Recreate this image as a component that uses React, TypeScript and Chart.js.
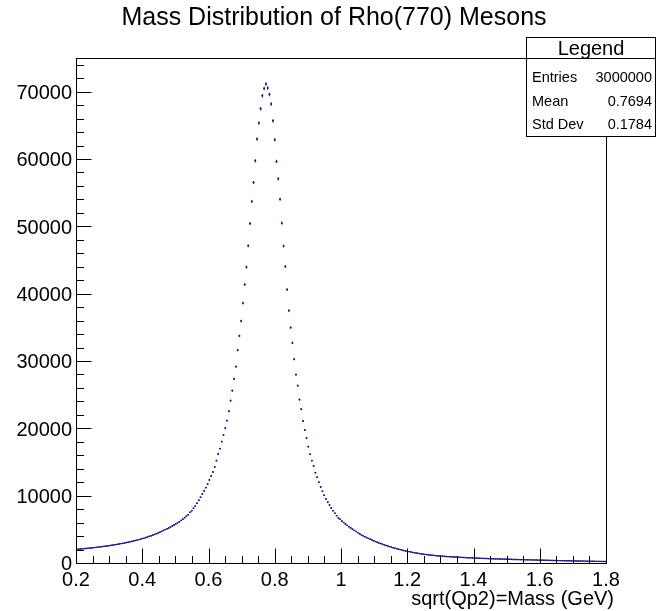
import React, { useEffect, useRef } from "react";
import { Chart, registerables } from "chart.js";

Chart.register(...registerables);

const W = 667;
const H = 611;
const FONT = '"Liberation Sans", Arial, Helvetica, sans-serif';
const HSCALE = 1.0;
const MARKER = "rgb(22,22,135)";

const TITLE = "Mass Distribution of Rho(770) Mesons";
const X_TITLE = "sqrt(Qp2)=Mass (GeV)";

const X_MIN = 0.2;
const X_MAX = 1.8;
const N_BINS = 300;
const Y_MIN = 0;
const Y_MAX = 75000;

const X_TICKS = [0.2, 0.4, 0.6, 0.8, 1.0, 1.2, 1.4, 1.6, 1.8];
const X_TICK_LABELS = ["0.2", "0.4", "0.6", "0.8", "1", "1.2", "1.4", "1.6", "1.8"];
const X_MINOR_STEP = 0.05;
const Y_TICKS = [0, 10000, 20000, 30000, 40000, 50000, 60000, 70000];
const Y_TICK_LABELS = ["0", "10000", "20000", "30000", "40000", "50000", "60000", "70000"];
const Y_MINOR_STEP = 2000;

const STAT_HEADER = "Legend";
const STAT_LABELS = ["Entries", "Mean", "Std Dev"];
const STAT_VALUES = ["3000000", "0.7694", "0.1784"];

// bins 0..61 (low-mass tail)
const COUNTS_LOW = [
  2040, 2052, 2083, 2098, 2131, 2160, 2176, 2211, 2233, 2270,
  2291, 2330, 2352, 2393, 2419, 2461, 2490, 2536, 2562, 2611,
  2645, 2696, 2728, 2784, 2821, 2879, 2920, 2981, 3024, 3090,
  3138, 3209, 3260, 3336, 3391, 3472, 3534, 3621, 3689, 3783,
  3857, 3958, 4039, 4148, 4238, 4357, 4455, 4586, 4694, 4836,
  4957, 5091, 5205, 5356, 5484, 5651, 5798, 5976, 6131, 6330,
  6511, 6736,
];

// bins 62..149 (peak region)
const COUNTS_PEAK = [
  6940, 7177, 7534, 7772, 8128, 8426, 8871, 9317, 9763, 10253,
  10699, 11190, 11739, 12334, 12928, 13523, 14266, 15202, 16197, 16985,
  18025, 19021, 20016, 21146, 22543, 24118, 25604, 27342, 29170, 31607,
  33732, 35931, 38591, 41355, 43941, 47106, 50420, 53689, 56513, 59737,
  62962, 65339, 67464, 69396, 70481, 71135, 70540, 69589, 68163, 65681,
  62858, 59633, 57062, 54016, 50479, 47062, 44030, 40612, 37492, 34966,
  32692, 30270, 27981, 26347, 24266, 22840, 21101, 19764, 18575, 17282,
  16153, 15202, 14414, 13419, 12735, 11992, 11294, 10654, 10060, 9510,
  9065, 8619, 8173, 7772, 7385, 7029, 6687, 6494,
];

// bins 150..299 (high-mass tail)
const COUNTS_HIGH = [
  6230, 6008, 5795, 5586, 5392, 5198, 5027, 4846, 4683, 4508,
  4342, 4191, 4053, 3907, 3783, 3648, 3538, 3417, 3308, 3186,
  3082, 2977, 2884, 2781, 2693, 2598, 2517, 2426, 2353, 2271,
  2203, 2122, 2058, 1981, 1918, 1847, 1797, 1736, 1688, 1627,
  1583, 1527, 1488, 1436, 1398, 1347, 1318, 1276, 1248, 1207,
  1182, 1147, 1128, 1097, 1078, 1046, 1033, 1007, 993, 966,
  953, 931, 921, 899, 889, 867, 859, 838, 831, 811,
  803, 784, 779, 760, 755, 737, 731, 712, 707, 689,
  683, 667, 664, 649, 646, 631, 628, 612, 610, 595,
  592, 578, 576, 562, 560, 546, 544, 530, 529, 515,
  513, 500, 499, 486, 484, 472, 470, 458, 457, 444,
  443, 431, 430, 418, 417, 405, 404, 393, 391, 381,
  379, 369, 367, 357, 355, 345, 343, 334, 331, 322,
  320, 311, 309, 300, 298, 289, 287, 279, 276, 268,
  266, 258, 255, 248, 245, 238, 235, 228, 225, 218,
];

const COUNTS = [...COUNTS_LOW, ...COUNTS_PEAK, ...COUNTS_HIGH];
const BIN_W = (X_MAX - X_MIN) / N_BINS;
const BIN_CENTERS = COUNTS.map((_, i) => X_MIN + (i + 0.5) * BIN_W);

function drawText(
  ctx: CanvasRenderingContext2D,
  s: string,
  x: number,
  y: number,
  align: "left" | "right" | "center",
  size: number
) {
  ctx.save();
  ctx.font = `${size}px ${FONT}`;
  ctx.textAlign = "left";
  ctx.textBaseline = "alphabetic";
  ctx.fillStyle = "#000";
  const w = ctx.measureText(s).width * HSCALE;
  const x0 = align === "left" ? x : align === "right" ? x - w : x - w / 2;
  ctx.translate(x0, y);
  ctx.scale(HSCALE, 1);
  ctx.fillText(s, 0, 0);
  ctx.restore();
}

const rootPlugin = {
  id: "rootFrame",
  beforeDraw(chart: any) {
    const ctx = chart.ctx;
    ctx.save();
    ctx.fillStyle = "#fff";
    ctx.fillRect(0, 0, chart.width, chart.height);
    ctx.restore();
  },
  afterDatasetsDraw(chart: any) {
    const ctx: CanvasRenderingContext2D = chart.ctx;
    const xs = chart.scales.x;
    const ys = chart.scales.y;
    const meta = chart.getDatasetMeta(0);
    const a = chart.chartArea;
    ctx.save();
    ctx.beginPath();
    ctx.rect(a.left, a.top, a.right - a.left, a.bottom - a.top);
    ctx.clip();
    ctx.strokeStyle = MARKER;
    ctx.lineWidth = 1;
    meta.data.forEach((el: any, i: number) => {
      const v = COUNTS[i];
      const xc = BIN_CENTERS[i];
      const e = Math.sqrt(v);
      const x0 = xs.getPixelForValue(xc - BIN_W / 2);
      const x1 = xs.getPixelForValue(xc + BIN_W / 2);
      const y0 = ys.getPixelForValue(v + e);
      const y1 = ys.getPixelForValue(v - e);
      ctx.beginPath();
      ctx.moveTo(x0, el.y);
      ctx.lineTo(x1, el.y);
      ctx.moveTo(el.x, y0);
      ctx.lineTo(el.x, y1);
      ctx.stroke();
    });
    ctx.restore();
  },
  afterDraw(chart: any) {
    const ctx: CanvasRenderingContext2D = chart.ctx;
    const xs = chart.scales.x;
    const ys = chart.scales.y;
    const a = chart.chartArea;
    const L = Math.round(a.left) + 0.5;
    const R = Math.round(a.right) + 0.5;
    const T = Math.round(a.top) + 0.5;
    const B = Math.round(a.bottom) + 0.5;

    ctx.save();
    ctx.strokeStyle = "#000";
    ctx.lineWidth = 1;
    ctx.strokeRect(L, T, R - L, B - T);

    ctx.beginPath();
    const nxm = Math.round((X_MAX - X_MIN) / X_MINOR_STEP);
    for (let k = 0; k <= nxm; k++) {
      const v = X_MIN + k * X_MINOR_STEP;
      const px = Math.round(xs.getPixelForValue(v)) + 0.5;
      const isMajor = X_TICKS.some((t) => Math.abs(t - v) < 1e-6);
      const len = isMajor ? 15 : 7.5;
      ctx.moveTo(px, B);
      ctx.lineTo(px, B - len);
    }
    const nym = Math.floor((Y_MAX - Y_MIN) / Y_MINOR_STEP);
    for (let k = 0; k <= nym; k++) {
      const v = Y_MIN + k * Y_MINOR_STEP;
      const py = Math.round(ys.getPixelForValue(v)) + 0.5;
      const isMajor = Y_TICKS.includes(v);
      const len = isMajor ? 15 : 7.5;
      ctx.moveTo(L, py);
      ctx.lineTo(L + len, py);
    }
    ctx.stroke();
    ctx.restore();

    X_TICKS.forEach((v, i) => {
      drawText(ctx, X_TICK_LABELS[i], xs.getPixelForValue(v), 586, "center", 20);
    });
    Y_TICKS.forEach((v, i) => {
      drawText(ctx, Y_TICK_LABELS[i], 72, ys.getPixelForValue(v) + 7.2, "right", 20);
    });

    drawText(ctx, X_TITLE, 614, 605, "right", 20);

    drawText(ctx, TITLE, 334, 25, "center", 25);

    const bx0 = 526.5, bx1 = 655.5, by0 = 37.5, by1 = 136.5, bsep = 58.5;
    ctx.save();
    ctx.fillStyle = "#fff";
    ctx.fillRect(bx0, by0, bx1 - bx0, by1 - by0);
    ctx.strokeStyle = "#000";
    ctx.lineWidth = 1;
    ctx.strokeRect(bx0, by0, bx1 - bx0, by1 - by0);
    ctx.beginPath();
    ctx.moveTo(bx0, bsep);
    ctx.lineTo(bx1, bsep);
    ctx.stroke();
    ctx.restore();
    drawText(ctx, STAT_HEADER, (bx0 + bx1) / 2, 55, "center", 20);
    const rowBase = [82, 105.5, 129];
    STAT_LABELS.forEach((lab, i) => {
      drawText(ctx, lab, 532, rowBase[i], "left", 14.5);
      drawText(ctx, STAT_VALUES[i], 652, rowBase[i], "right", 14.5);
    });
  },
};

export default function App() {
  const ref = useRef<HTMLCanvasElement | null>(null);

  useEffect(() => {
    if (!ref.current) return;
    const points = COUNTS.map((v, i) => ({ x: BIN_CENTERS[i], y: v }));
    const chart = new Chart(ref.current, {
      type: "scatter",
      data: {
        datasets: [
          {
            data: points,
            pointStyle: "rect",
            pointRadius: 1,
            pointBorderWidth: 0,
            backgroundColor: MARKER,
            borderColor: MARKER,
            showLine: false,
          },
        ],
      },
      options: {
        animation: false,
        responsive: false,
        devicePixelRatio: 1,
        events: [],
        layout: { padding: { left: 0, right: 61, top: 58, bottom: 0 } },
        plugins: {
          legend: { display: false },
          tooltip: { enabled: false },
          title: { display: false },
        },
        scales: {
          x: {
            type: "linear",
            min: X_MIN,
            max: X_MAX,
            grid: { display: false },
            border: { display: false },
            ticks: { display: false },
            afterFit: (s: any) => {
              s.height = 48;
            },
          },
          y: {
            type: "linear",
            min: Y_MIN,
            max: Y_MAX,
            grid: { display: false },
            border: { display: false },
            ticks: { display: false },
            afterFit: (s: any) => {
              s.width = 76;
            },
          },
        },
      },
      plugins: [rootPlugin],
    } as any);
    return () => chart.destroy();
  }, []);

  return (
    <div style={{ position: "absolute", left: 0, top: 0, width: W, height: H, background: "#fff" }}>
      <canvas ref={ref} width={W} height={H} style={{ width: W, height: H, display: "block" }} />
    </div>
  );
}
